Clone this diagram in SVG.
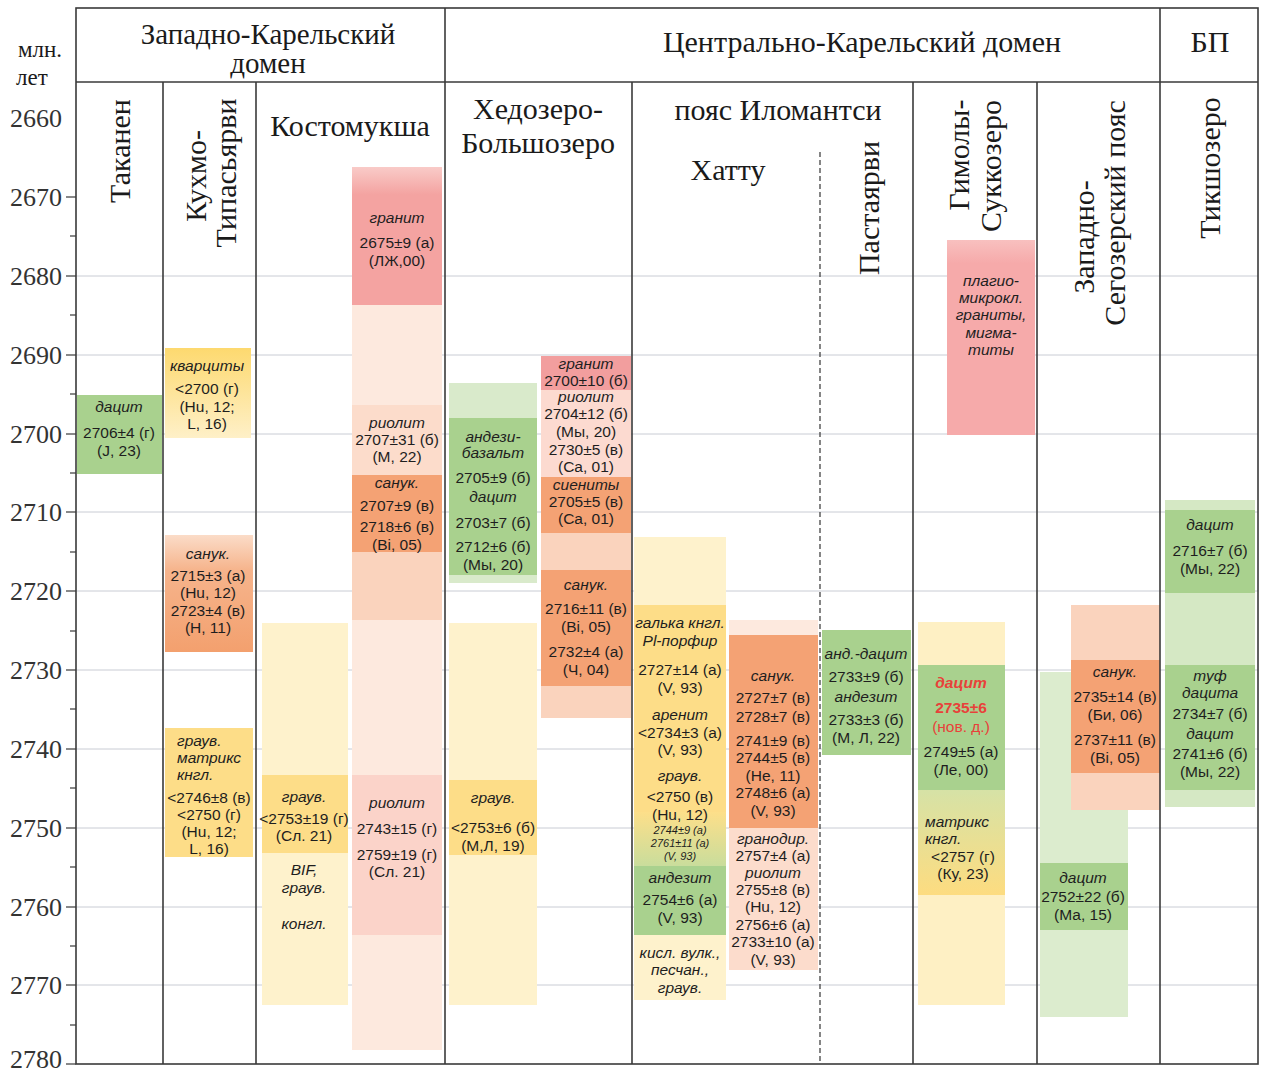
<svg xmlns="http://www.w3.org/2000/svg" width="1264" height="1072" viewBox="0 0 1264 1072">
<defs>
<style>
.hdr{font-family:"Liberation Serif","Times New Roman",serif;font-size:30px;fill:#1a1a1a}
.hr{font-family:"Liberation Serif","Times New Roman",serif;font-size:30px;fill:#1a1a1a;text-anchor:middle}
.ax{font-family:"Liberation Serif","Times New Roman",serif;font-size:26px;fill:#333;text-anchor:end}
.t{font-family:"Liberation Sans",Arial,sans-serif;font-size:15.5px;fill:#1e1e1e;text-anchor:middle}
.l{text-anchor:start}
.i{font-style:italic}
.s{font-size:11px}
.red{fill:#e8413a}
.b{font-weight:bold}
.grid{stroke:#c9ccd4;stroke-width:1}
.frame{stroke:#3a3a3a;stroke-width:1.6;fill:none}
.tick{stroke:#555;stroke-width:1.4}
.G{fill:#a9d18e}.LG{fill:#d9eacb}
.O{fill:#f4a274}.LO{fill:#fad3bd}.VO{fill:#fde9de}
.P{fill:#f4a4a2}.LP{fill:#fbd3c9}
.Y{fill:#fddd88}.LY{fill:#fef2cc}
</style>
<linearGradient id="gKv" x1="0" y1="0" x2="0" y2="1"><stop offset="0" stop-color="#fdd96f"/><stop offset="1" stop-color="#fef0c8"/></linearGradient>
<linearGradient id="gSan" x1="0" y1="0" x2="0" y2="1"><stop offset="0" stop-color="#fbdcc8"/><stop offset="0.3" stop-color="#f6b48c"/><stop offset="1" stop-color="#f3a06e"/></linearGradient>
<linearGradient id="gGr" x1="0" y1="0" x2="0" y2="1"><stop offset="0" stop-color="#f9cbc8"/><stop offset="0.2" stop-color="#f4a3a1"/><stop offset="1" stop-color="#f4a3a1"/></linearGradient>
<linearGradient id="gYG" x1="0" y1="0" x2="0" y2="1"><stop offset="0" stop-color="#fddf8a"/><stop offset="1" stop-color="#c9dd9c"/></linearGradient>
<linearGradient id="gGY" x1="0" y1="0" x2="0" y2="1"><stop offset="0" stop-color="#d6e2a6"/><stop offset="1" stop-color="#fddc80"/></linearGradient>
<linearGradient id="gPk" x1="0" y1="0" x2="0" y2="1"><stop offset="0" stop-color="#f8c0bf"/><stop offset="0.12" stop-color="#f6aaaa"/><stop offset="1" stop-color="#f6aaaa"/></linearGradient>
</defs>
<rect width="1264" height="1072" fill="#ffffff"/>

<!-- grid -->
<g id="grid">
<line class="grid" x1="76" y1="276" x2="1258" y2="276"/>
<line class="grid" x1="76" y1="355" x2="1258" y2="355"/>
<line class="grid" x1="76" y1="434" x2="1258" y2="434"/>
<line class="grid" x1="76" y1="512" x2="1258" y2="512"/>
<line class="grid" x1="76" y1="591" x2="1258" y2="591"/>
<line class="grid" x1="76" y1="670" x2="1258" y2="670"/>
<line class="grid" x1="76" y1="749" x2="1258" y2="749"/>
<line class="grid" x1="76" y1="828" x2="1258" y2="828"/>
<line class="grid" x1="76" y1="907" x2="1258" y2="907"/>
<line class="grid" x1="76" y1="985" x2="1258" y2="985"/>
</g>

<!-- axis -->
<g id="axis">
<text class="hdr" x="18" y="57" style="font-size:23px">млн.</text>
<text class="hdr" x="16" y="85" style="font-size:23px">лет</text>
<text class="ax" x="62" y="127">2660</text>
<text class="ax" x="62" y="206">2670</text>
<text class="ax" x="62" y="285">2680</text>
<text class="ax" x="62" y="364">2690</text>
<text class="ax" x="62" y="443">2700</text>
<text class="ax" x="62" y="521">2710</text>
<text class="ax" x="62" y="600">2720</text>
<text class="ax" x="62" y="679">2730</text>
<text class="ax" x="62" y="758">2740</text>
<text class="ax" x="62" y="837">2750</text>
<text class="ax" x="62" y="916">2760</text>
<text class="ax" x="62" y="994">2770</text>
<text class="ax" x="62" y="1068">2780</text>
<g class="tick">
<line x1="66" y1="197" x2="76" y2="197"/><line x1="70" y1="236" x2="76" y2="236"/>
<line x1="66" y1="276" x2="76" y2="276"/><line x1="70" y1="315" x2="76" y2="315"/>
<line x1="66" y1="355" x2="76" y2="355"/><line x1="70" y1="394" x2="76" y2="394"/>
<line x1="66" y1="434" x2="76" y2="434"/><line x1="70" y1="473" x2="76" y2="473"/>
<line x1="66" y1="512" x2="76" y2="512"/><line x1="70" y1="552" x2="76" y2="552"/>
<line x1="66" y1="591" x2="76" y2="591"/><line x1="70" y1="631" x2="76" y2="631"/>
<line x1="66" y1="670" x2="76" y2="670"/><line x1="70" y1="709" x2="76" y2="709"/>
<line x1="66" y1="749" x2="76" y2="749"/><line x1="70" y1="788" x2="76" y2="788"/>
<line x1="66" y1="828" x2="76" y2="828"/><line x1="70" y1="867" x2="76" y2="867"/>
<line x1="66" y1="907" x2="76" y2="907"/><line x1="70" y1="946" x2="76" y2="946"/>
<line x1="66" y1="985" x2="76" y2="985"/><line x1="70" y1="1025" x2="76" y2="1025"/>
<line x1="66" y1="1064" x2="76" y2="1064"/>
</g>
</g>

<!-- Таканен -->
<g id="takanen">
<rect class="G" x="77" y="395" width="85" height="79"/>
<text class="t i" x="119" y="412">дацит</text>
<text class="t" x="119" y="438">2706±4 (г)</text>
<text class="t" x="119" y="456">(J, 23)</text>
</g>

<!-- Кухмо-Типасьярви -->
<g id="kuhmo">
<rect x="165" y="348" width="86" height="90" fill="url(#gKv)"/>
<text class="t i" x="207" y="371">кварциты</text>
<text class="t" x="207" y="394">&lt;2700 (г)</text>
<text class="t" x="207" y="412">(Hu, 12;</text>
<text class="t" x="207" y="429">L, 16)</text>
<rect x="165" y="535" width="88" height="117" fill="url(#gSan)"/>
<text class="t i" x="208" y="559">санук.</text>
<text class="t" x="208" y="581">2715±3 (а)</text>
<text class="t" x="208" y="598">(Hu, 12)</text>
<text class="t" x="208" y="616">2723±4 (в)</text>
<text class="t" x="208" y="633">(H, 11)</text>
<rect class="Y" x="165" y="728" width="88" height="129"/>
<text class="t i l" x="177" y="746">граув.</text>
<text class="t i l" x="177" y="763">матрикс</text>
<text class="t i l" x="177" y="780">кнгл.</text>
<text class="t" x="209" y="803">&lt;2746±8 (в)</text>
<text class="t" x="209" y="820">&lt;2750 (г)</text>
<text class="t" x="209" y="837">(Hu, 12;</text>
<text class="t" x="209" y="854">L, 16)</text>
</g>

<!-- Костомукша -->
<g id="kostomuksha">
<rect x="352" y="167" width="90" height="138" fill="url(#gGr)"/>
<rect class="VO" x="352" y="305" width="90" height="100"/>
<rect fill="#fcdccb" x="352" y="405" width="90" height="70"/>
<rect class="O" x="352" y="475" width="90" height="77"/>
<rect class="LO" x="352" y="552" width="90" height="68"/>
<rect class="VO" x="352" y="620" width="90" height="155"/>
<rect class="LP" x="352" y="775" width="90" height="160"/>
<rect class="VO" x="352" y="935" width="90" height="115"/>
<text class="t i" x="397" y="223">гранит</text>
<text class="t" x="397" y="248">2675±9 (а)</text>
<text class="t" x="397" y="266">(ЛЖ,00)</text>
<text class="t i" x="397" y="428">риолит</text>
<text class="t" x="397" y="445">2707±31 (б)</text>
<text class="t" x="397" y="462">(М, 22)</text>
<text class="t i" x="397" y="488">санук.</text>
<text class="t" x="397" y="511">2707±9 (в)</text>
<text class="t" x="397" y="532">2718±6 (в)</text>
<text class="t" x="397" y="550">(Bi, 05)</text>
<text class="t i" x="397" y="808">риолит</text>
<text class="t" x="397" y="834">2743±15 (г)</text>
<text class="t" x="397" y="860">2759±19 (г)</text>
<text class="t" x="397" y="877">(Сл. 21)</text>
<rect class="LY" x="262" y="623" width="86" height="382"/>
<rect class="Y" x="262" y="775" width="86" height="78"/>
<text class="t i" x="304" y="802">граув.</text>
<text class="t" x="304" y="824">&lt;2753±19 (г)</text>
<text class="t" x="304" y="841">(Сл. 21)</text>
<text class="t i" x="304" y="875">BIF,</text>
<text class="t i" x="304" y="893">граув.</text>
<text class="t i" x="304" y="929">конгл.</text>
</g>

<!-- Хедозеро-Большозеро -->
<g id="hedozero">
<rect class="LG" x="449" y="383" width="88" height="200"/>
<rect class="G" x="449" y="418" width="88" height="157"/>
<text class="t i" x="493" y="442">андези-</text>
<text class="t i" x="493" y="458">базальт</text>
<text class="t" x="493" y="483">2705±9 (б)</text>
<text class="t i" x="493" y="502">дацит</text>
<text class="t" x="493" y="528">2703±7 (б)</text>
<text class="t" x="493" y="552">2712±6 (б)</text>
<text class="t" x="493" y="570">(Мы, 20)</text>
<rect class="LY" x="449" y="623" width="88" height="382"/>
<rect class="Y" x="449" y="780" width="88" height="75"/>
<text class="t i" x="493" y="803">граув.</text>
<text class="t" x="493" y="833">&lt;2753±6 (б)</text>
<text class="t" x="493" y="851">(М,Л, 19)</text>
<rect fill="#f29e9e" x="541" y="356" width="90" height="34"/>
<rect fill="#fcdad0" x="541" y="390" width="90" height="87"/>
<rect class="O" x="541" y="477" width="90" height="56"/>
<rect class="LO" x="541" y="533" width="90" height="37"/>
<rect class="O" x="541" y="570" width="90" height="116"/>
<rect class="LO" x="541" y="686" width="90" height="32"/>
<text class="t i" x="586" y="369">гранит</text>
<text class="t" x="586" y="386">2700±10 (б)</text>
<text class="t i" x="586" y="402">риолит</text>
<text class="t" x="586" y="419">2704±12 (б)</text>
<text class="t" x="586" y="437">(Мы, 20)</text>
<text class="t" x="586" y="455">2730±5 (в)</text>
<text class="t" x="586" y="472">(Ca, 01)</text>
<text class="t i" x="586" y="490">сиениты</text>
<text class="t" x="586" y="507">2705±5 (в)</text>
<text class="t" x="586" y="524">(Ca, 01)</text>
<text class="t i" x="586" y="590">санук.</text>
<text class="t" x="586" y="614">2716±11 (в)</text>
<text class="t" x="586" y="632">(Bi, 05)</text>
<text class="t" x="586" y="657">2732±4 (а)</text>
<text class="t" x="586" y="675">(Ч, 04)</text>
</g>

<!-- Хатту -->
<g id="hattu">
<rect class="LY" x="634" y="537" width="92" height="463"/>
<rect class="Y" x="634" y="605" width="92" height="207"/>
<rect x="634" y="812" width="92" height="54" fill="url(#gYG)"/>
<rect class="G" x="634" y="866" width="92" height="69"/>
<text class="t i" x="680" y="628">галька кнгл.</text>
<text class="t i" x="680" y="646">Pl-порфир</text>
<text class="t" x="680" y="675">2727±14 (а)</text>
<text class="t" x="680" y="693">(V, 93)</text>
<text class="t i" x="680" y="720">аренит</text>
<text class="t" x="680" y="738">&lt;2734±3 (а)</text>
<text class="t" x="680" y="755">(V, 93)</text>
<text class="t i" x="680" y="781">граув.</text>
<text class="t" x="680" y="802">&lt;2750 (в)</text>
<text class="t" x="680" y="820">(Hu, 12)</text>
<text class="t i s" x="680" y="834">2744±9 (а)</text>
<text class="t i s" x="680" y="847">2761±11 (а)</text>
<text class="t i s" x="680" y="860">(V, 93)</text>
<text class="t i" x="680" y="883">андезит</text>
<text class="t" x="680" y="905">2754±6 (а)</text>
<text class="t" x="680" y="923">(V, 93)</text>
<text class="t i" x="680" y="958">кисл. вулк.,</text>
<text class="t i" x="680" y="975">песчан.,</text>
<text class="t i" x="680" y="993">граув.</text>
<rect class="VO" x="729" y="620" width="89" height="15"/>
<rect class="O" x="729" y="635" width="89" height="193"/>
<rect fill="#fcdccc" x="729" y="828" width="89" height="142"/>
<text class="t i" x="773" y="681">санук.</text>
<text class="t" x="773" y="703">2727±7 (в)</text>
<text class="t" x="773" y="722">2728±7 (в)</text>
<text class="t" x="773" y="746">2741±9 (в)</text>
<text class="t" x="773" y="763">2744±5 (в)</text>
<text class="t" x="773" y="781">(He, 11)</text>
<text class="t" x="773" y="798">2748±6 (а)</text>
<text class="t" x="773" y="816">(V, 93)</text>
<text class="t i" x="773" y="844">гранодир.</text>
<text class="t" x="773" y="861">2757±4 (а)</text>
<text class="t i" x="773" y="878">риолит</text>
<text class="t" x="773" y="895">2755±8 (в)</text>
<text class="t" x="773" y="912">(Hu, 12)</text>
<text class="t" x="773" y="930">2756±6 (а)</text>
<text class="t" x="773" y="947">2733±10 (а)</text>
<text class="t" x="773" y="965">(V, 93)</text>
</g>

<!-- Пастаярви -->
<g id="pastajarvi">
<rect class="G" x="822" y="630" width="89" height="125"/>
<text class="t i" x="866" y="659">анд.-дацит</text>
<text class="t" x="866" y="682">2733±9 (б)</text>
<text class="t i" x="866" y="702">андезит</text>
<text class="t" x="866" y="725">2733±3 (б)</text>
<text class="t" x="866" y="743">(М, Л, 22)</text>
</g>

<!-- Гимолы-Суккозеро -->
<g id="gimoly">
<rect fill="url(#gPk)" x="947" y="240" width="88" height="195"/>
<text class="t i" x="991" y="286">плагио-</text>
<text class="t i" x="991" y="303">микрокл.</text>
<text class="t i" x="991" y="320">граниты,</text>
<text class="t i" x="991" y="338">мигма-</text>
<text class="t i" x="991" y="355">титы</text>
<rect fill="#fef0c4" x="918" y="622" width="87" height="383"/>
<rect class="G" x="918" y="665" width="87" height="125"/>
<rect x="918" y="790" width="87" height="105" fill="url(#gGY)"/>
<text class="t i b red" x="961" y="688">дацит</text>
<text class="t b red" x="961" y="713">2735±6</text>
<text class="t red" x="961" y="732">(нов. д.)</text>
<text class="t" x="961" y="757">2749±5 (а)</text>
<text class="t" x="961" y="775">(Ле, 00)</text>
<text class="t i l" x="925" y="827">матрикс</text>
<text class="t i l" x="925" y="844">кнгл.</text>
<text class="t" x="963" y="862">&lt;2757 (г)</text>
<text class="t" x="963" y="879">(Ку, 23)</text>
</g>

<!-- Западно-Сегозерский пояс -->
<g id="segozero">
<rect fill="#dcecce" x="1040" y="672" width="88" height="345"/>
<rect class="G" x="1040" y="863" width="88" height="67"/>
<text class="t i" x="1083" y="883">дацит</text>
<text class="t" x="1083" y="902">2752±22 (б)</text>
<text class="t" x="1083" y="920">(Ма, 15)</text>
<rect class="LO" x="1071" y="605" width="89" height="205"/>
<rect class="O" x="1071" y="660" width="89" height="113"/>
<text class="t i" x="1115" y="677">санук.</text>
<text class="t" x="1115" y="702">2735±14 (в)</text>
<text class="t" x="1115" y="720">(Би, 06)</text>
<text class="t" x="1115" y="745">2737±11 (в)</text>
<text class="t" x="1115" y="763">(Bi, 05)</text>
</g>

<!-- Тикшозеро -->
<g id="tikshozero">
<rect fill="#d5e8c4" x="1165" y="500" width="90" height="307"/>
<rect class="G" x="1165" y="510" width="90" height="83"/>
<rect class="G" x="1165" y="665" width="90" height="125"/>
<text class="t i" x="1210" y="530">дацит</text>
<text class="t" x="1210" y="556">2716±7 (б)</text>
<text class="t" x="1210" y="574">(Мы, 22)</text>
<text class="t i" x="1210" y="681">туф</text>
<text class="t i" x="1210" y="698">дацита</text>
<text class="t" x="1210" y="719">2734±7 (б)</text>
<text class="t i" x="1210" y="739">дацит</text>
<text class="t" x="1210" y="759">2741±6 (б)</text>
<text class="t" x="1210" y="777">(Мы, 22)</text>
</g>

<!-- table lines -->
<g id="connectors">
<rect class="frame" x="76" y="8" width="1182" height="1056"/>
<line class="frame" x1="76" y1="82" x2="1258" y2="82"/>
<line class="frame" x1="445" y1="8" x2="445" y2="1064"/>
<line class="frame" x1="1160" y1="8" x2="1160" y2="1064"/>
<line class="frame" x1="163" y1="82" x2="163" y2="1064"/>
<line class="frame" x1="256" y1="82" x2="256" y2="1064"/>
<line class="frame" x1="632" y1="82" x2="632" y2="1064"/>
<line class="frame" x1="913" y1="82" x2="913" y2="1064"/>
<line class="frame" x1="1037" y1="82" x2="1037" y2="1064"/>
<line x1="820" y1="152" x2="820" y2="1064" stroke="#444" stroke-width="1.3" stroke-dasharray="5,3"/>
</g>

<!-- headers -->
<g id="headers">
<text class="hr" x="268" y="44" style="font-size:29px">Западно-Карельский</text>
<text class="hr" x="268" y="73" style="font-size:29px">домен</text>
<text class="hr" x="862" y="52">Центрально-Карельский домен</text>
<text class="hr" x="1210" y="52">БП</text>
<text class="hr" transform="translate(130,151) rotate(-90)">Таканен</text>
<text class="hr" transform="translate(206,176) rotate(-90)">Кухмо-</text>
<text class="hr" transform="translate(236,173) rotate(-90)">Типасьярви</text>
<text class="hr" x="350" y="136">Костомукша</text>
<text class="hr" x="538" y="119">Хедозеро-</text>
<text class="hr" x="538" y="153">Большозеро</text>
<text class="hr" x="778" y="120">пояс Иломантси</text>
<text class="hr" x="728" y="180">Хатту</text>
<text class="hr" transform="translate(879,208) rotate(-90)">Пастаярви</text>
<text class="hr" transform="translate(969,155) rotate(-90)">Гимолы-</text>
<text class="hr" transform="translate(1001,166) rotate(-90)">Суккозеро</text>
<text class="hr" transform="translate(1094,237) rotate(-90)">Западно-</text>
<text class="hr" transform="translate(1125,213) rotate(-90)">Сегозерский пояс</text>
<text class="hr" transform="translate(1220,168) rotate(-90)">Тикшозеро</text>
</g>
</svg>
